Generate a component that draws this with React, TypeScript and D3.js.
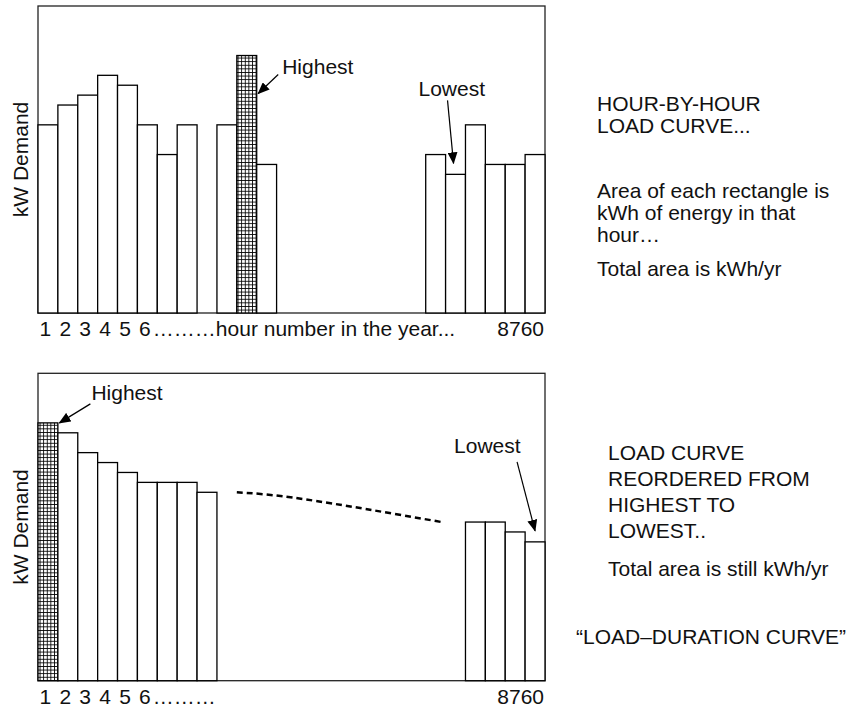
import React from "react";
import * as d3 from "d3";

// ---- data (kW demand, arbitrary units) ----
const hourlyStart = [19, 21, 22, 24, 23, 19, 16, 19]; // hours 1..8
const hourlyMid = [19, 26, 15]; // a few hours later, index 1 = annual peak
const hourlyEnd = [16, 14, 19, 15, 15, 16]; // last six hours of the year, index 1 = lowest
const durationStart = [26, 25, 23, 22, 21, 20, 20, 20, 19]; // sorted highest first
const durationEnd = [16, 16, 15, 14]; // sorted, ends with lowest
const durationTrend: [number, number][] = [
  [10, 19],
  [13.4, 18.3],
  [20.3, 16],
];
const hourTickLabels = ["1", "2", "3", "4", "5", "6"];
const lastHourLabel = "8760";
const topAxisSuffix = "………hour number in the year...";
const bottomAxisSuffix = "………";
const yAxisTitle = "kW Demand";
const topNotes = ["HOUR-BY-HOUR", "LOAD CURVE...", "Area of each rectangle is", "kWh of energy in that", "hour…", "Total area is kWh/yr"];
const bottomNotes = ["LOAD CURVE", "REORDERED FROM", "HIGHEST TO", "LOWEST..", "Total area is still kWh/yr"];
const bottomTitle = "“LOAD–DURATION CURVE”";

const W = 856;
const H = 710;
const FONT = "'Liberation Sans', Arial, Helvetica, sans-serif";
const FS = 21;
const SLOTS = 25.5;
const YMAX = 31;
const LEFT = 38;
const RIGHT = 545;

type Bar = { slot: number; v: number; hatch?: boolean };

function Panel({
  top,
  bottom,
  bars,
  labelSuffix,
  children,
}: {
  top: number;
  bottom: number;
  bars: Bar[];
  labelSuffix: string;
  children?: (x: d3.ScaleLinear<number, number>, y: d3.ScaleLinear<number, number>) => React.ReactNode;
}) {
  const x = d3.scaleLinear().domain([0, SLOTS]).range([LEFT, RIGHT]);
  const y = d3.scaleLinear().domain([0, YMAX]).range([bottom, top]);
  const bw = x(1) - x(0);
  const labelY = bottom + 23;
  const sixthCenter = x(5.5) - 2.5;
  return (
    <g>
      <rect x={LEFT} y={top} width={RIGHT - LEFT} height={bottom - top} fill="#fff" stroke="#222" strokeWidth={1.3} />
      {bars.map((b, i) => (
        <rect
          key={i}
          x={x(b.slot)}
          y={y(b.v)}
          width={bw}
          height={y(0) - y(b.v)}
          fill={b.hatch ? "url(#hatch)" : "#fff"}
          stroke="#000"
          strokeWidth={1.3}
        />
      ))}
      {children && children(x, y)}
      <text
        transform={`translate(28,${(top + bottom) / 2}) rotate(-90)`}
        textAnchor="middle"
        fontFamily={FONT}
        fontSize={FS}
        fill="#111"
      >
        {yAxisTitle}
      </text>
      {hourTickLabels.map((t, i) => (
        <text key={t} x={x(i + 0.5) - 2.5} y={labelY} textAnchor="middle" fontFamily={FONT} fontSize={FS} fill="#111">
          {t}
        </text>
      ))}
      <text x={sixthCenter + 8} y={labelY} fontFamily={FONT} fontSize={FS} fill="#111">
        {labelSuffix}
      </text>
      <text x={RIGHT - 1} y={labelY} textAnchor="end" fontFamily={FONT} fontSize={FS} fill="#111">
        {lastHourLabel}
      </text>
    </g>
  );
}

function Arrow({ x1, y1, x2, y2 }: { x1: number; y1: number; x2: number; y2: number }) {
  return <line x1={x1} y1={y1} x2={x2} y2={y2} stroke="#000" strokeWidth={1.2} markerEnd="url(#arrowhead)" />;
}

export default function App() {
  const topBars: Bar[] = [
    ...hourlyStart.map((v, i) => ({ slot: i, v })),
    ...hourlyMid.map((v, i) => ({ slot: hourlyStart.length + 1 + i, v, hatch: v === d3.max(hourlyMid) })),
    ...hourlyEnd.map((v, i) => ({ slot: SLOTS - hourlyEnd.length + i, v })),
  ];
  const bottomBars: Bar[] = [
    ...durationStart.map((v, i) => ({ slot: i, v, hatch: i === 0 })),
    ...durationEnd.map((v, i) => ({ slot: SLOTS - durationEnd.length + i, v })),
  ];
  const peakSlotTop = hourlyStart.length + 1 + hourlyMid.indexOf(d3.max(hourlyMid) as number);
  const lowSlotTop = SLOTS - hourlyEnd.length + hourlyEnd.indexOf(d3.min(hourlyEnd) as number);
  const lowSlotBottom = SLOTS - 1;
  const line = d3.line().curve(d3.curveNatural);

  return (
    <svg width={W} height={H} style={{ position: "absolute", left: 0, top: 0, background: "#fff" }}>
      <defs>
        <pattern id="hatch" patternUnits="userSpaceOnUse" width={3.6} height={3.6} x={0} y={0}>
          <rect width={3.6} height={3.6} fill="#fff" />
          <path d="M0,0.4H3.6M0.4,0V3.6" stroke="#000" strokeWidth={0.9} />
        </pattern>
        <marker id="arrowhead" viewBox="0 0 12 10" refX={11} refY={5} markerWidth={12} markerHeight={10} markerUnits="userSpaceOnUse" orient="auto">
          <path d="M0,0L12,5L0,10Z" fill="#000" />
        </marker>
      </defs>
      <rect width={W} height={H} fill="#fff" />

      <Panel top={6} bottom={313} bars={topBars} labelSuffix={topAxisSuffix}>
        {(x, y) => {
          const hx = x(peakSlotTop + 1) + 1.5;
          const hy = y(d3.max(hourlyMid) as number) + 38;
          const lx = x(lowSlotTop + 0.5) - 2;
          const ly = y(d3.min(hourlyEnd) as number) - 11;
          return (
            <g>
              <Arrow x1={hx + 20} y1={hy - 19} x2={hx} y2={hy} />
              <text x={hx + 24} y={hy - 20} fontFamily={FONT} fontSize={FS} fill="#111">
                Highest
              </text>
              <Arrow x1={lx - 6} y1={ly - 63} x2={lx} y2={ly} />
              <text x={lx - 35} y={ly - 67} fontFamily={FONT} fontSize={FS} fill="#111">
                Lowest
              </text>
            </g>
          );
        }}
      </Panel>

      <Panel top={373.3} bottom={680.7} bars={bottomBars} labelSuffix={bottomAxisSuffix}>
        {(x, y) => {
          const hx = x(1) + 1.5;
          const hy = y(durationStart[0]);
          const lx = x(lowSlotBottom + 0.5);
          const ly = y(durationEnd[durationEnd.length - 1]) - 11;
          const pts = durationTrend.map(([a, b]) => [x(a), y(b)] as [number, number]);
          return (
            <g>
              <path d={line(pts) || ""} fill="none" stroke="#000" strokeWidth={2.5} strokeDasharray="6,4" />
              <Arrow x1={hx + 31} y1={hy - 19} x2={hx} y2={hy} />
              <text x={hx + 32} y={hy - 23} fontFamily={FONT} fontSize={FS} fill="#111">
                Highest
              </text>
              <Arrow x1={lx - 18} y1={ly - 69} x2={lx} y2={ly} />
              <text x={lx - 81} y={ly - 78} fontFamily={FONT} fontSize={FS} fill="#111">
                Lowest
              </text>
            </g>
          );
        }}
      </Panel>

      <g fontFamily={FONT} fontSize={FS} fill="#111">
        {topNotes.map((t, i) => (
          <text key={t} x={597} y={[111, 133, 198, 220, 242, 276][i]}>
            {t}
          </text>
        ))}
        {bottomNotes.map((t, i) => (
          <text key={t} x={608} y={[460, 486, 512, 538, 576][i]}>
            {t}
          </text>
        ))}
        <text x={576} y={644}>
          {bottomTitle}
        </text>
      </g>
    </svg>
  );
}
